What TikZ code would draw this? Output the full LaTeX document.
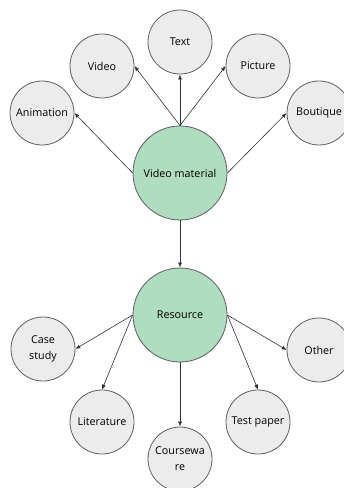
\documentclass[tikz,border=0pt]{standalone}
\usepackage{fontspec}
\setmainfont{Open Sans}
\usetikzlibrary{arrows.meta}

\definecolor{leafgray}{RGB}{236,236,236}
\definecolor{hubgreen}{RGB}{176,220,192}
\definecolor{rimgray}{RGB}{95,95,95}

\begin{document}
\begin{tikzpicture}[x=1bp, y=-1bp,
    leaf/.style={circle, draw=rimgray, fill=leafgray, line width=0.8bp,
        minimum size=64bp, inner sep=0bp, align=center, font=\fontsize{10.8}{16}\selectfont},
    hub/.style={circle, draw=rimgray, fill=hubgreen, line width=0.8bp,
        minimum size=94bp, inner sep=0bp, font=\fontsize{10.8}{16}\selectfont},
    link/.style={-{Latex[length=5bp, width=4bp]}, draw=black!80, line width=0.6bp}]
    % Page frame
    \useasboundingbox (0,0) rectangle (343,488);

    % Upper hub and its leaves
    \node[hub] (vmat) at (180,173) {Video material};
    \node[leaf] (anim) at (42,113) {Animation};
    \node[leaf] (video) at (102,66) {Video};
    \node[leaf] (text) at (180,42) {Text};
    \node[leaf] (pict) at (258,66) {Picture};
    \node[leaf] (bout) at (319,113) {Boutique};

    % Lower hub and its leaves
    \node[hub] (res) at (180,315) {Resource};
    \node[leaf] (case) at (43,349) {Case\\study};
    \node[leaf] (lit) at (102,422) {Literature};
    \node[leaf] (cware) at (180,459) {Coursewa\\re};
    \node[leaf] (test) at (258,422) {Test paper};
    \node[leaf] (other) at (319,350) {Other};

    % Arrows out of Video material
    \draw[link] (vmat.west) -- (anim.east);
    \draw[link] (vmat.north) -- (video.east);
    \draw[link] (vmat.north) -- (text.south);
    \draw[link] (vmat.north) -- (pict.west);
    \draw[link] (vmat.east) -- (bout.west);
    \draw[link] (vmat.south) -- (res.north);

    % Arrows out of Resource
    \draw[link] (res.west) -- (case.east);
    \draw[link] (res.west) -- (lit.north);
    \draw[link] (res.south) -- (cware.north);
    \draw[link] (res.east) -- (test.north);
    \draw[link] (res.east) -- (other.west);
\end{tikzpicture}
\end{document}
